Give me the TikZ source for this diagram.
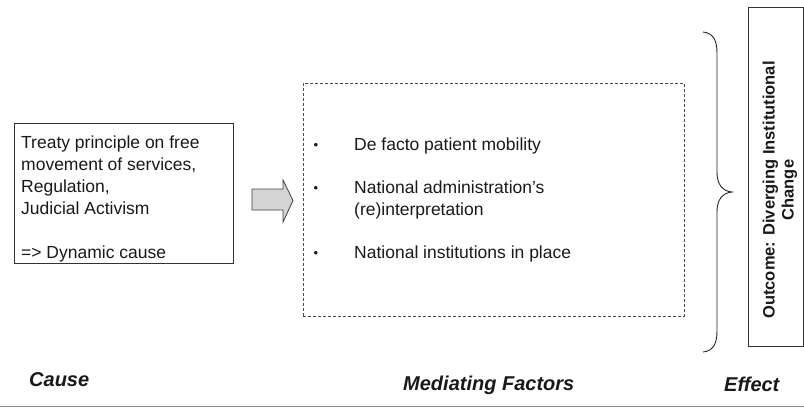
\documentclass[tikz,border=0pt]{standalone}
\usepackage{fontspec}
\setmainfont{Liberation Sans}
\begin{document}
\begin{tikzpicture}[x=1pt,y=-1pt,
  frame/.style={draw=black!80, line width=0.9pt, inner sep=0pt},
  body/.style={font=\fontsize{17.5}{22}\selectfont, inner sep=0pt, text=black!90, align=left},
  bullet/.style={font=\fontsize{13}{13}\selectfont, inner sep=0pt, text=black!90, anchor=base},
  heading/.style={font=\fontsize{20}{22}\selectfont\bfseries\itshape, inner sep=0pt, text=black!90},
  brace/.style={draw=black!85, line width=0.9pt},
 ]
\useasboundingbox (0,0) rectangle (804,408);

% Cause box
\node[frame, minimum width=219pt, minimum height=140pt, anchor=north west] (causebox) at (14,123) {};
\node[body, anchor=north west] (causetext) at (21,135.8)
  {Treaty principle on free\\movement of services,\\Regulation,\\Judicial Activism\\[22pt]=> Dynamic cause};

% Block arrow into the mediating factors
\draw[draw=black!75, line width=0.8pt, fill=black!17]
  (252,189) -- (283,189) -- (283,180) -- (293,200.5) -- (283,222) -- (283,210) -- (252,210) -- cycle;

% Mediating factors box
\node[draw=black!70, line width=0.8pt, dash pattern=on 3pt off 2pt, inner sep=0pt,
      minimum width=381pt, minimum height=233pt, anchor=north west] (medbox) at (303,83) {};
\node[bullet] (b1) at (316,149) {•};
\node[bullet] (b2) at (316,192) {•};
\node[bullet] (b3) at (316,257) {•};
\node[body, anchor=base west] (m1) at (354,150) {De facto patient mobility};
\node[body, anchor=base west] (m2) at (354,193) {National administration’s};
\node[body, anchor=base west] (m2b) at (354,215) {(re)interpretation};
\node[body, anchor=base west] (m3) at (354,258) {National institutions in place};

% Curly brace gathering the factors
\draw[brace] (703,32) .. controls (713,33) and (717,40) .. (717,53)
  -- (717,172) .. controls (717,184) and (722,191) .. (732,192)
  .. controls (722,193) and (717,200) .. (717,212)
  -- (717,331) .. controls (717,344) and (713,351) .. (703,352);

% Outcome box
\node[frame, minimum width=55pt, minimum height=339pt, anchor=north west] (outbox) at (748,7) {};
\node[rotate=90, inner sep=0pt, align=center, text=black!90,
      font=\fontsize{16.5}{19}\selectfont\bfseries] (outtext) at (780,190)
  {Outcome: Diverging Institutional\\Change};

% Column headings
\node[heading, anchor=base west] (hcause) at (29,386) {Cause};
\node[heading, anchor=base west] (hmed) at (403,390) {Mediating Factors};
\node[heading, anchor=base west] (heffect) at (724,391) {Effect};

% Rule along the bottom
\draw[draw=black!45, line width=1.5pt] (0,406.5) -- (804,406.5);
\end{tikzpicture}
\end{document}
